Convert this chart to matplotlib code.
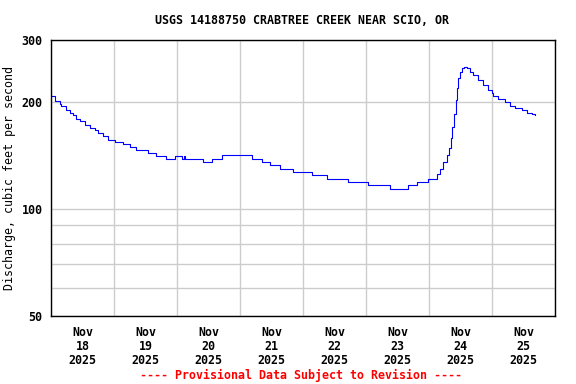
import pandas as pd
import matplotlib
matplotlib.use("Agg")
import matplotlib.pyplot as plt
import matplotlib.dates as mdates
from matplotlib.ticker import FixedLocator, NullFormatter, FixedFormatter

# Discharge readings (hours after 2025-11-18 00:00, cfs)
hours = [0, 1.4, 3.3, 3.9, 5.8, 7.1, 8.4, 9.6, 10.9, 12.8, 14.7, 16.6, 17.9, 19.8,
         21.7, 24.3, 27.4, 30, 32.5, 37, 40.1, 43.9, 47.2, 49.8, 50.6, 51.0, 57.9,
         61.2, 65, 76.5, 80.3, 83.4, 87.2, 92.3, 99.3, 105, 113.3, 120.9, 129.1,
         136.1, 139.3, 143.7, 147, 148.2, 149.5, 150.8, 151.6, 152.4, 152.9, 153.6,
         154.2, 154.6, 155.2, 155.8, 156.7, 157.5, 158.4, 159.6, 160.9, 162.8,
         164.7, 166.6, 167.9, 168.5, 170.4, 173, 174.9, 176.8, 179.3, 181.2, 183.1,
         184.4]
flow = [208, 202, 198, 195, 190, 187, 184, 180, 177, 173, 169, 167, 164, 161,
        157, 155, 153, 150, 147, 144, 141, 139, 141, 139, 141, 139, 136,
        139, 142, 139, 136, 133, 130, 127, 125, 122, 119, 117, 114,
        117, 119, 122, 126, 130, 136, 142, 149, 159, 171, 186,
        203, 219, 234, 244, 250, 251, 250, 244, 239, 231,
        224, 217, 212, 209, 204, 200, 195, 193, 190, 187, 185,
        184]

start = pd.Timestamp("2025-11-18")
end = pd.Timestamp("2025-11-26")
times = start + pd.to_timedelta(hours, unit="h")

y_major = [50, 100, 200, 300]
y_minor = [60, 70, 80, 90]

title = "USGS 14188750 CRABTREE CREEK NEAR SCIO, OR"
ylabel = "Discharge, cubic feet per second"
footer = "---- Provisional Data Subject to Revision ----"

plt.rcParams["font.family"] = "DejaVu Sans Mono"
plt.rcParams["font.weight"] = "bold"
plt.rcParams["font.size"] = 8.4

fig = plt.figure(figsize=(5.76, 3.84), dpi=100)
ax = fig.add_axes([51 / 576, 1 - 316 / 384, 504 / 576, 276 / 384])

ax.plot(times, flow, color="#0000ff", linewidth=0.8, drawstyle="steps-post")

ax.set_yscale("log")
ax.set_ylim(50, 300)
ax.yaxis.set_major_locator(FixedLocator(y_major))
ax.yaxis.set_major_formatter(FixedFormatter([str(v) for v in y_major]))
ax.yaxis.set_minor_locator(FixedLocator(y_minor))
ax.yaxis.set_minor_formatter(NullFormatter())

ax.set_xlim(start, end)
ax.xaxis.set_major_locator(mdates.HourLocator(byhour=12))
ax.xaxis.set_major_formatter(mdates.DateFormatter("%b\n%d\n%Y"))
ax.xaxis.set_minor_locator(mdates.DayLocator())

ax.grid(True, which="both", axis="y", color="#cccccc", linewidth=1.0)
ax.grid(True, which="minor", axis="x", color="#cccccc", linewidth=1.0)
ax.set_axisbelow(True)

ax.tick_params(which="both", length=0)
ax.tick_params(axis="y", pad=6)
ax.tick_params(axis="x", pad=7)
for lbl in ax.get_xticklabels():
    lbl.set_linespacing(1.12)

for s in ax.spines.values():
    s.set_linewidth(1.0)
    s.set_color("black")

ax.set_ylabel(ylabel, labelpad=4)
fig.text(302 / 576, 1 - 20 / 384, title, ha="center", va="center", fontweight="bold")
fig.text(301 / 576, 1 - 375 / 384, footer, ha="center", va="center", color="#ff0000",
         fontweight="bold")

fig.savefig("out.png", dpi=100)
